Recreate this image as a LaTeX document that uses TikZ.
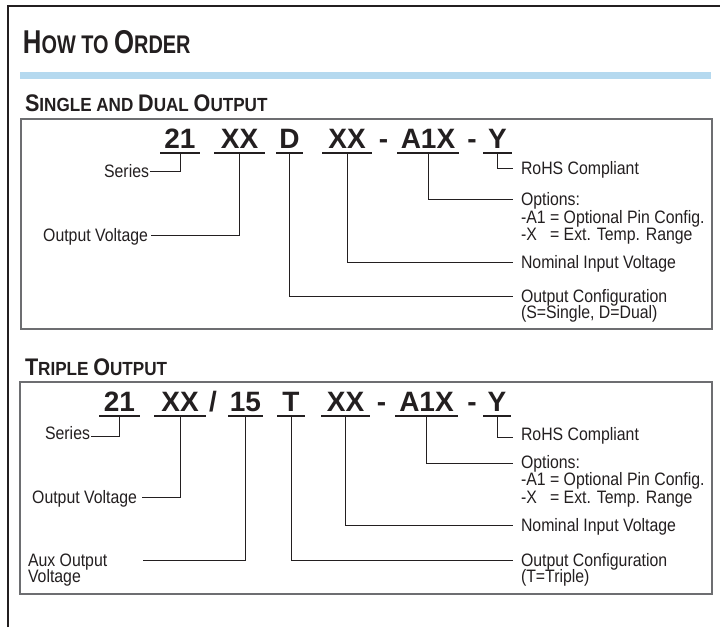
\documentclass[tikz,border=0pt]{standalone}
\usepackage{fontspec}
\setmainfont{Liberation Sans}
\newfontfamily\headfont{Liberation Sans}[FakeStretch=0.78]
\newfontfamily\subfont{Liberation Sans}[FakeStretch=0.9]
\newfontfamily\labfont{Liberation Sans}[FakeStretch=0.88]
\definecolor{ink}{HTML}{231F20}
\definecolor{barblue}{HTML}{B5D9EF}
\definecolor{boxgray}{HTML}{6D6E71}
\newcommand\tbig{\fontsize{33}{33}\selectfont}
\newcommand\tsml{\fontsize{25.5}{25.5}\selectfont}
\newcommand\sbig{\fontsize{24}{24}\selectfont}
\newcommand\ssml{\fontsize{19}{19}\selectfont}
\newcommand\xopt{\makebox[0pt][l]{-X}\hphantom{-A1}}
\begin{document}
\begin{tikzpicture}[x=1pt,y=-1pt,
  every node/.style={inner sep=0pt, outer sep=0pt, text=ink},
  code/.style={font=\fontsize{28}{28}\selectfont\bfseries, anchor=base,
    text depth=0pt, inner ysep=4.5pt, inner xsep=0pt},
  sep/.style={font=\fontsize{28}{28}\selectfont\bfseries, anchor=base},
  ul/.style={draw=ink, line width=2pt},
  conn/.style={draw=ink, line width=0.9pt},
  lab/.style={font=\labfont\fontsize{18}{18}\selectfont, anchor=base west},
  labr/.style={font=\labfont\fontsize{18}{18}\selectfont, anchor=base east},
  head/.style={font=\headfont\bfseries, anchor=base west},
  subhead/.style={font=\subfont\bfseries, anchor=base west},
  panel/.style={draw=boxgray, line width=1.2pt},
  frame/.style={draw=ink, line width=1.5pt}]
\useasboundingbox (0,0) rectangle (720,627);
\fill[white] (0,0) rectangle (720,627);
% outer frame
\draw[frame] (8,627) -- (8,6) -- (720,6);
% title and bar
\node[head] (title) at (23,53) {\tbig H\tsml OW TO \tbig O\tsml RDER};
\fill[barblue] (20,72) rectangle (711,79);
% ---------------- single and dual ----------------
\node[subhead] (sub1) at (25,111) {\sbig S\ssml INGLE AND \sbig D\ssml UAL \sbig O\ssml UTPUT};
\draw[panel] (21,119) rectangle (712,329);
\node[code, minimum width=40pt] (a21) at (180,148) {21};
\node[code, minimum width=51pt] (aXX) at (239.5,148) {XX};
\node[code, minimum width=27pt] (aD) at (289.5,148) {D};
\node[code, minimum width=50pt] (aIN) at (347,148) {XX};
\node[sep] (ah1) at (383.5,148) {-};
\node[code, minimum width=62pt] (aA1X) at (428,148) {A1X};
\node[sep] (ah2) at (472,148) {-};
\node[code, minimum width=29pt] (aY) at (497.5,148) {Y};
\foreach \n in {a21,aXX,aD,aIN,aA1X,aY} \draw[ul] (\n.south west) -- (\n.south east);
\coordinate (eSe1) at (150,171);
\coordinate (eOV1) at (151,235);
\coordinate (eRo1) at (513,168);
\coordinate (eOp1) at (513,199);
\coordinate (eNo1) at (513,262);
\coordinate (eOC1) at (513,296);
\draw[conn] (a21.south) |- (eSe1);
\draw[conn] (aXX.south) |- (eOV1);
\draw[conn] (aY.south) |- (eRo1);
\draw[conn] (aA1X.south) |- (eOp1);
\draw[conn] (aIN.south) |- (eNo1);
\draw[conn] (aD.south) |- (eOC1);
\node[labr] (lSe1) at (149,177) {Series};
\node[labr] (lOV1) at (148,241) {Output Voltage};
\node[lab] (lRo1) at (521,174) {RoHS Compliant};
\node[lab] (lOpa1) at (521,205.5) {Options:};
\node[lab] (lOpb1) at (521,223) {-A1 = Optional Pin Config.};
\node[lab] (lOpc1) at (521,240.5) {\xopt\ = Ext. Temp. Range};
\node[lab] (lNo1) at (521,268) {Nominal Input Voltage};
\node[lab] (lOCa1) at (521,302) {Output Configuration};
\node[lab] (lOCb1) at (521,318.5) {(S=Single, D=Dual)};
% ---------------- triple ----------------
\node[subhead] (sub2) at (25,375) {\sbig T\ssml RIPLE \sbig O\ssml UTPUT};
\draw[panel] (20,382) rectangle (712,594);
\node[code, minimum width=41pt] (b21) at (119.5,411.5) {21};
\node[code, minimum width=52pt] (bXX) at (180,411.5) {XX};
\node[sep] (bsl) at (213,411.5) {/};
\node[code, minimum width=35pt] (b15) at (245.5,411.5) {15};
\node[code, minimum width=28pt] (bT) at (291,411.5) {T};
\node[code, minimum width=49pt] (bIN) at (345.5,411.5) {XX};
\node[sep] (bh1) at (381.5,411.5) {-};
\node[code, minimum width=63pt] (bA1X) at (426.5,411.5) {A1X};
\node[sep] (bh2) at (472,411.5) {-};
\node[code, minimum width=28pt] (bY) at (497,411.5) {Y};
\foreach \n in {b21,bXX,b15,bT,bIN,bA1X,bY} \draw[ul] (\n.south west) -- (\n.south east);
\coordinate (eSe2) at (91,436);
\coordinate (eOV2) at (142,497);
\coordinate (eAux) at (143,560);
\coordinate (eRo2) at (513,437);
\coordinate (eOp2) at (513,463);
\coordinate (eNo2) at (513,525);
\coordinate (eOC2) at (513,560);
\draw[conn] (b21.south) |- (eSe2);
\draw[conn] (bXX.south) |- (eOV2);
\draw[conn] (b15.south) |- (eAux);
\draw[conn] (bT.south) |- (eOC2);
\draw[conn] (bIN.south) |- (eNo2);
\draw[conn] (bA1X.south) |- (eOp2);
\draw[conn] (bY.south) |- (eRo2);
\node[labr] (lSe2) at (90,439) {Series};
\node[labr] (lOV2) at (137,503) {Output Voltage};
\node[lab] (lAuxa) at (28,566) {Aux Output};
\node[lab] (lAuxb) at (28,582.5) {Voltage};
\node[lab] (lRo2) at (521,440) {RoHS Compliant};
\node[lab] (lOpa2) at (521,468) {Options:};
\node[lab] (lOpb2) at (521,485.5) {-A1 = Optional Pin Config.};
\node[lab] (lOpc2) at (521,503) {\xopt\ = Ext. Temp. Range};
\node[lab] (lNo2) at (521,531) {Nominal Input Voltage};
\node[lab] (lOCa2) at (521,566) {Output Configuration};
\node[lab] (lOCb2) at (521,582.5) {(T=Triple)};
\end{tikzpicture}
\end{document}
